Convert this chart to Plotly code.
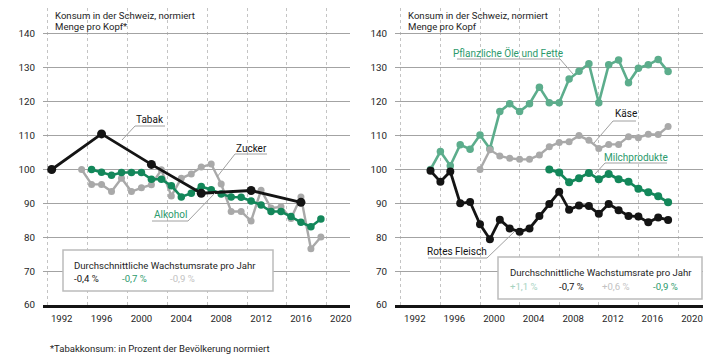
import plotly.graph_objects as go

# ---------------- data ----------------
tick_years = [1992, 1996, 2000, 2004, 2008, 2012, 2016, 2020]
y_ticks = [60, 70, 80, 90, 100, 110, 120, 130, 140]

# left panel
tabak_years = [1992, 1997, 2002, 2007, 2012, 2017]
tabak = [100, 110.5, 101.5, 93.0, 93.8, 90.3]

zucker_years = list(range(1995, 2020))
zucker = [100, 95.6, 95.6, 93.5, 97.4, 93.5, 94.6, 95.5, 99.9, 92.2, 97.4, 98.7,
          100.7, 101.6, 95.7, 87.6, 87.6, 84.8, 93.9, 88.6, 89.0, 85.5, 91.9, 76.6, 80.1]

alkohol_years = list(range(1996, 2020))
alkohol = [100, 99.2, 98.3, 99.1, 99.1, 99.1, 97.1, 97.1, 95.2, 91.9, 93.0, 95.0,
           94.0, 92.8, 91.9, 91.8, 90.7, 89.5, 87.6, 87.6, 86.1, 84.4, 83.1, 85.4]

# right panel
pflanz_years = list(range(1995, 2020))
pflanz = [100, 105.3, 101.1, 107.3, 106.0, 110.2, 106.1, 117.1, 119.4, 117.1, 119.4,
          124.3, 119.7, 119.7, 126.7, 129.0, 131.2, 119.7, 130.9, 132.3, 125.6, 129.9,
          130.9, 132.5, 128.9]

kaese_years = list(range(2000, 2020))
kaese = [100, 105.8, 104.0, 103.3, 103.0, 103.0, 104.3, 106.7, 108.0, 108.2, 110.0,
         108.6, 106.2, 107.4, 107.4, 109.7, 109.4, 110.4, 110.3, 112.7]

milch_years = list(range(2007, 2020))
milch = [100, 99.1, 96.2, 97.4, 99.0, 97.1, 98.7, 97.1, 96.4, 94.3, 93.3, 92.1, 90.3]

fleisch_years = list(range(1995, 2020))
fleisch = [99.6, 96.4, 99.4, 90.0, 90.4, 83.8, 79.4, 85.2, 82.6, 81.6, 82.6, 86.3,
           89.8, 93.4, 88.1, 89.4, 89.2, 86.9, 89.8, 88.0, 86.3, 86.1, 84.4, 85.8, 85.1]

# growth-rate boxes
left_rates = ["-0,4 %", "-0,7 %", "-0,9 %"]
right_rates = ["+1,1 %", "-0,7 %", "+0,6 %", "-0,9 %"]

title_l1 = "Konsum in der Schweiz, normiert"
title_l2_left = "Menge pro Kopf*"
title_l2_right = "Menge pro Kopf"
box_title = "Durchschnittliche Wachstumsrate pro Jahr"
footnote = "*Tabakkonsum: in Prozent der Bevölkerung normiert"

# ---------------- style ----------------
W, H = 723, 359
FONT = "Roboto"
BLACK = "#141414"
GREEN = "#13875a"
GREEN_TXT = "#2b9a6c"
LGREEN = "#5cad8c"
PALEGREEN = "#a6d3bf"
GREY = "#a9a9a9"
PALEGREY = "#c2c2c2"
LEADER = "#a0a0a0"
TXT = "#1e1e1e"
LEFT_GRID_SHIFT = -0.4


def px(x):
    return x / W


def py(y):
    return 1 - y / H


fig = go.Figure()


def add_series(x, y, color, xa, ya, width=2.6, size=7):
    fig.add_trace(go.Scatter(
        x=x, y=y, mode="lines+markers", xaxis=xa, yaxis=ya,
        line=dict(color=color, width=width),
        marker=dict(color=color, size=size),
        hoverinfo="skip", showlegend=False))


add_series(zucker_years, zucker, GREY, "x", "y", 2.4, 7)
add_series(alkohol_years, alkohol, GREEN, "x", "y", 2.6, 7.5)
add_series(tabak_years, tabak, BLACK, "x", "y", 2.8, 9)

add_series(pflanz_years, pflanz, LGREEN, "x2", "y2", 2.6, 7.5)
add_series(kaese_years, kaese, GREY, "x2", "y2", 2.4, 7)
add_series(milch_years, milch, GREEN, "x2", "y2", 2.8, 8)
add_series(fleisch_years, fleisch, BLACK, "x2", "y2", 2.8, 8)

xcommon = dict(
    showgrid=True, griddash="dot", gridcolor="#c4c4c4", gridwidth=1,
    showline=True, linecolor=BLACK, linewidth=3, ticks="", zeroline=False,
    tickfont=dict(family=FONT, size=9.6, color=TXT),
    ticklabelshift=14, ticklabelstandoff=2, automargin=False,
)
ycommon = dict(
    showgrid=True, gridcolor="#a3a3a3", gridwidth=1, range=[60, 147.67],
    tickvals=y_ticks, ticktext=[str(v) for v in y_ticks], ticks="",
    zeroline=False, showline=False,
    tickfont=dict(family=FONT, size=9.8, color=TXT),
    ticklabelstandoff=7, automargin=False,
    domain=[py(305), py(8)],
)

fig.update_layout(
    width=W, height=H, margin=dict(l=0, r=0, t=0, b=0, autoexpand=False),
    paper_bgcolor="white", plot_bgcolor="white",
    font=dict(family=FONT, size=10, color=TXT),
    xaxis=dict(domain=[px(43), px(350)], range=[1991.127, 2021.92], anchor="y",
               tickvals=[t + LEFT_GRID_SHIFT for t in tick_years],
               ticktext=[str(t) for t in tick_years], **xcommon),
    yaxis=dict(anchor="x", **ycommon),
    xaxis2=dict(domain=[px(395), px(703)], range=[1991.414, 2022.525], anchor="y2",
                tickvals=tick_years, ticktext=[str(t) for t in tick_years], **xcommon),
    yaxis2=dict(anchor="x2", **ycommon),
)

ann = []
shapes = []


def text(x, y, s, color=TXT, size=9.6, xanchor="left"):
    ann.append(dict(x=px(x), y=py(y), xref="paper", yref="paper", text=s,
                    showarrow=False, xanchor=xanchor, yanchor="middle",
                    font=dict(family=FONT, size=size, color=color)))


def line(x0, y0, x1, y1, color=LEADER, width=1):
    shapes.append(dict(type="line", xref="paper", yref="paper",
                       x0=px(x0), y0=py(y0), x1=px(x1), y1=py(y1),
                       line=dict(color=color, width=width), layer="above"))


def box(x0, y0, x1, y1):
    shapes.append(dict(type="rect", xref="paper", yref="paper",
                       x0=px(x0), y0=py(y0), x1=px(x1), y1=py(y1),
                       fillcolor="white", line=dict(color="#bcbcbc", width=1.5),
                       layer="above"))


# panel titles
text(53, 15, title_l1)
text(53, 27, title_l2_left)
text(406, 15, title_l1)
text(406, 27, title_l2_right)

# left labels + leaders
text(150, 119, "Tabak", BLACK, 10, "center")
line(135, 126, 165, 126)
line(135, 126, 122, 140)
text(251, 148, "Zucker", BLACK, 10, "center")
line(235, 154, 267, 154)
line(235, 154, 217, 177)
text(170, 214, "Alkohol", GREEN_TXT, 10, "center")
line(152, 221, 188, 221)
line(188, 221, 215, 193)

# right labels + leaders
text(508, 53, "Pflanzliche Öle und Fette", GREEN_TXT, 10, "center")
line(457, 59, 560, 59)
line(560, 59, 573, 74)
text(626, 113, "Käse", BLACK, 10, "center")
line(613, 121, 636, 121)
line(613, 121, 594, 143)
text(636, 157, "Milchprodukte", GREEN_TXT, 10, "center")
line(605, 163, 667, 163)
line(605, 163, 595, 174)
text(457, 252, "Rotes Fleisch", BLACK, 10, "center")
line(428, 258, 487, 258)
line(487, 258, 514, 232)

# growth-rate boxes
box(63, 250, 273, 291)
text(72, 265, box_title)
text(72, 278, left_rates[0], BLACK)
text(120, 278, left_rates[1], GREEN_TXT)
text(168, 278, left_rates[2], PALEGREY)

box(498, 257, 702, 299)
text(508, 272, box_title)
text(508, 286, right_rates[0], PALEGREEN)
text(557, 286, right_rates[1], BLACK)
text(600, 286, right_rates[2], PALEGREY)
text(651, 286, right_rates[3], GREEN_TXT)

text(48, 348, footnote, TXT, 9.5)

fig.update_layout(annotations=ann, shapes=shapes)

page_fix = "document.body.style.margin='0';document.body.style.overflow='hidden';"

fig.write_html("out.html", config={"displayModeBar": False}, post_script=page_fix)
